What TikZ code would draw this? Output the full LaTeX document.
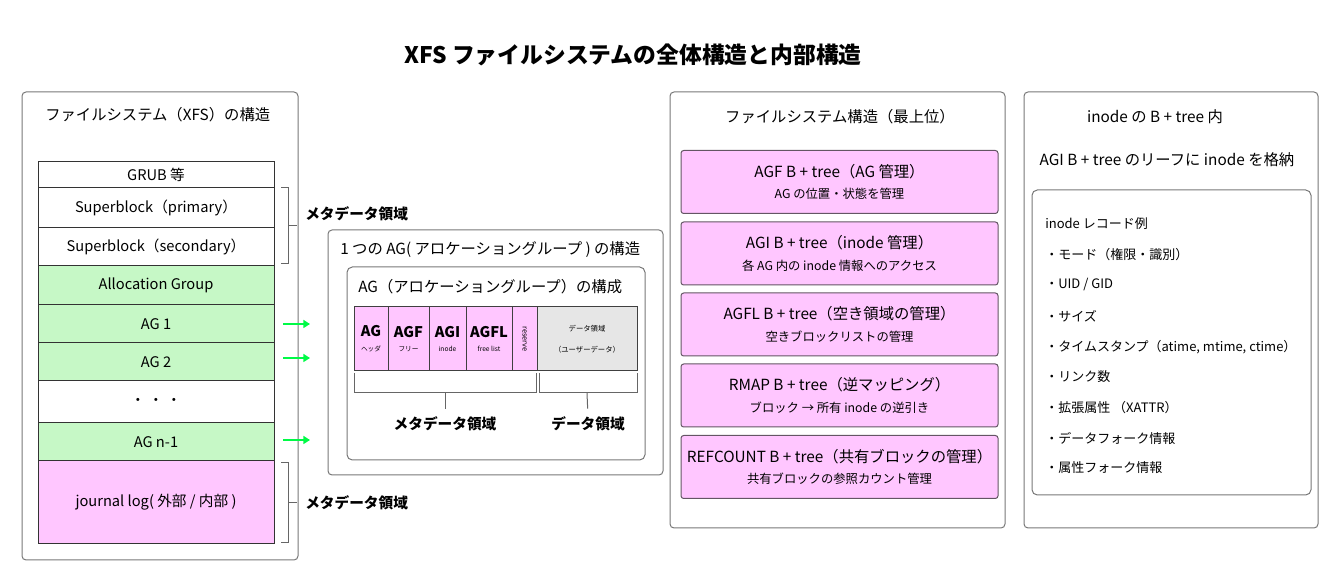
\documentclass[tikz,border=0pt]{standalone}
\usepackage{fontspec}
\setmainfont{Noto Sans CJK JP}
\usepackage{xcolor}
\usetikzlibrary{positioning, arrows.meta, calc}
\definecolor{xpink}{RGB}{255,198,255}
\definecolor{xgreen}{RGB}{198,248,198}
\definecolor{xgray}{RGB}{230,230,230}
\definecolor{xarrow}{RGB}{0,250,70}
\definecolor{framegray}{RGB}{120,120,120}
\definecolor{treeedge}{RGB}{100,85,100}
\newcommand{\treesub}[1]{{\fontsize{9.25}{10}\selectfont #1}}
\newcommand{\cellsub}[1]{{\mdseries\fontsize{5}{6}\selectfont #1}}
\tikzset{
  panelbox/.style={draw=framegray, line width=0.75pt, rounded corners=3pt, inner sep=0pt},
  stackrow/.style={draw=black!80, line width=0.75pt, minimum width=177pt, inner sep=0pt,
    outer sep=0pt, font=\fontsize{11}{12}\selectfont},
  agcell/.style={draw=black!75, line width=0.75pt, fill=xpink, minimum height=48pt,
    inner sep=0pt, outer sep=0pt, align=center, font=\bfseries\fontsize{11}{12}\selectfont},
  treebox/.style={draw=treeedge, line width=0.75pt, fill=xpink, rounded corners=2pt,
    minimum width=237.75pt, minimum height=47.25pt, inner xsep=1pt, align=center,
    font=\fontsize{11.5}{13}\selectfont},
  paneltitle/.style={font=\fontsize{11.5}{13}\selectfont, inner sep=0pt},
  brlabel/.style={font=\bfseries\fontsize{11}{13}\selectfont, inner sep=0pt},
  brkt/.style={draw=black!60, line width=0.75pt},
  agarrow/.style={draw=xarrow, line width=2pt, -{Triangle[length=5pt,width=6pt]}},
  recitem/.style={font=\fontsize{9.75}{11}\selectfont, inner sep=0pt, anchor=west}
}

\begin{document}
\begin{tikzpicture}[x=0.75pt, y=-0.75pt]
  \useasboundingbox (0,0) rectangle (1340,580);
  \node[font=\bfseries\fontsize{17.1}{19}\selectfont] (title) at (633,55)
    {XFS ファイルシステムの全体構造と内部構造};

  % left: whole file system
  \node[panelbox, minimum width=207pt, minimum height=351pt] (leftpanel) at (160,326) {};
  \node[paneltitle, anchor=west] (lefttitle) at (45,115) {ファイルシステム（XFS）の構造};
  \node[stackrow, minimum height=19.5pt] (grub) at (156,175) {GRUB 等};
  \node[stackrow, minimum height=30pt] (sbpri) at (156,208) {Superblock（primary）};
  \node[stackrow, minimum height=28.5pt] (sbsec) at (156,247) {Superblock（secondary）};
  \node[stackrow, minimum height=29.25pt, fill=xgreen] (aghead) at (156,285.5) {Allocation Group};
  \node[stackrow, minimum height=28.5pt, fill=xgreen] (ag1) at (156,324) {AG 1};
  \node[stackrow, minimum height=28.5pt, fill=xgreen] (ag2) at (156,362) {AG 2};
  \node[stackrow, minimum height=31.5pt] (agdots) at (156,402) {・ ・ ・};
  \node[stackrow, minimum height=28.5pt, fill=xgreen] (agn) at (156,442) {AG n-1};
  \node[stackrow, minimum height=62.25pt, fill=xpink] (jlog) at (156,502.5) {journal log( 外部 / 内部 )};

  \draw[brkt] ($(sbpri.north east)+(7,0)$) -- ++(7,0) |- ($(sbsec.south east)+(7,-2)$);
  \draw[brkt] ($(sbpri.south east)+(14,-2)$) -- ++(9,0);
  \node[brlabel, anchor=west] (meta1) at (305,214) {メタデータ領域};
  \draw[brkt] ($(jlog.north east)+(7,2)$) -- ++(7,0) |- ($(jlog.south east)+(7,-1)$);
  \draw[brkt] ($(jlog.east)+(14,0)$) -- ++(9,0);
  \node[brlabel, anchor=west] (meta2) at (305,503) {メタデータ領域};

  \coordinate (tgt1) at (310,324);
  \coordinate (tgt2) at (310,358);
  \coordinate (tgt3) at (310,440);
  \draw[agarrow] ([xshift=6.75pt]ag1.east) -- (tgt1);
  \draw[agarrow] ([xshift=6.75pt, yshift=3pt]ag2.east) -- (tgt2);
  \draw[agarrow] ([xshift=6.75pt, yshift=1.5pt]agn.east) -- (tgt3);

  % middle: one AG
  \node[panelbox, minimum width=251.25pt, minimum height=183.75pt] (agpanel) at (495.5,352.5) {};
  \node[paneltitle, anchor=west] (agtitle) at (340,250) {1 つの AG( アロケーショングループ ) の構造};
  \node[panelbox, rounded corners=4pt, minimum width=223.5pt, minimum height=144.75pt] (aginner) at (496,363.5) {};
  \node[paneltitle, anchor=west] (agsub) at (358,287) {AG（アロケーショングループ）の構成};
  \node[agcell, minimum width=25.5pt] (c1) at (371,339) {AG\\[-1pt]\cellsub{ヘッダ}};
  \node[agcell, minimum width=30.75pt, right=0pt of c1] (c2) {AGF\\[-1pt]\cellsub{フリー}};
  \node[agcell, minimum width=27.75pt, right=0pt of c2] (c3) {AGI\\[-1pt]\cellsub{inode}};
  \node[agcell, minimum width=34.5pt, right=0pt of c3] (c4) {AGFL\\[-1pt]\cellsub{free list}};
  \node[agcell, minimum width=18.75pt, right=0pt of c4] (c5) {};
  \node[rotate=-90, inner sep=0pt, font=\fontsize{5.5}{6}\selectfont] (rsv) at (c5) {reserve};
  \node[agcell, minimum width=75pt, fill=xgray, right=0pt of c5,
    font=\fontsize{5.5}{16}\selectfont] (c6) {データ領域\\（ユーザーデータ）};

  \draw[brkt] ($(c1.south west)+(0,2)$) |- ($(c5.south east)+(-1,22)$) -- ($(c5.south east)+(-1,2)$);
  \draw[brkt] ($(c6.south west)+(2,2)$) |- ($(c6.south east)+(0,22)$) -- ($(c6.south east)+(0,2)$);
  \node[brlabel] (metalbl) at (445,424) {メタデータ領域};
  \node[brlabel] (datalbl) at (588,424) {データ領域};
  \draw[brkt, shorten >=6pt] (445,393) -- (metalbl.north);
  \draw[brkt, shorten >=6pt] ($(c6.south)+(0,22)$) -- (datalbl.north);

  % right: top level B+trees
  \node[panelbox, minimum width=251.25pt, minimum height=327pt] (treepanel) at (837.5,310) {};
  \node[paneltitle] (treetitle) at (840,117) {ファイルシステム構造（最上位）};
  \node[treebox] (agf) at (839.5,182) {AGF B + tree（AG 管理）\\[3pt]\treesub{AG の位置・状態を管理}};
  \node[treebox] (agi) at (839.5,253.5) {AGI B + tree（inode 管理）\\[3pt]\treesub{各 AG 内の inode 情報へのアクセス}};
  \node[treebox] (agfl) at (839.5,324.5) {AGFL B + tree（空き領域の管理）\\[3pt]\treesub{空きブロックリストの管理}};
  \node[treebox] (rmap) at (839.5,395.5) {RMAP B + tree（逆マッピング）\\[3pt]\treesub{ブロック → 所有 inode の逆引き}};
  \node[treebox] (refc) at (839.5,467) {REFCOUNT B + tree（共有ブロックの管理）\\[3pt]\treesub{共有ブロックの参照カウント管理}};

  % right: inode record
  \node[panelbox, minimum width=220.5pt, minimum height=327pt] (inodepanel) at (1171,310) {};
  \node[paneltitle] (inodetitle) at (1155,117) {inode の B + tree 内};
  \node[paneltitle] (inodeleaf) at (1167,160) {AGI B + tree のリーフに inode を格納};
  \node[panelbox, rounded corners=4pt, minimum width=209.25pt, minimum height=228.75pt] (recbox) at (1171.5,342.5) {};
  \foreach \y/\t [count=\i] in {224/{inode レコード例}, 255/{・モード（権限・識別）}, 285/{・UID / GID},
      316/{・サイズ}, 347/{・タイムスタンプ（atime, mtime, ctime）}, 377/{・リンク数},
      408/{・拡張属性 （XATTR）}, 438/{・データフォーク情報}, 468/{・属性フォーク情報}}
    \node[recitem] (rec\i) at (1045,\y) {\t};
\end{tikzpicture}
\end{document}
